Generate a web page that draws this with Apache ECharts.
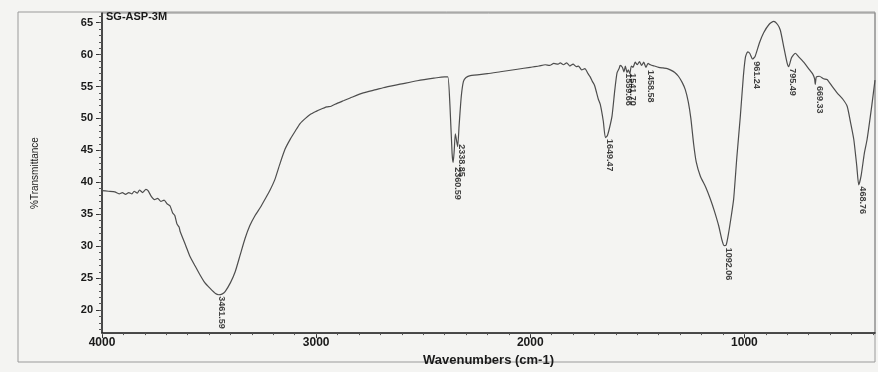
<!DOCTYPE html>
<html>
<head>
<meta charset="utf-8">
<script src="https://cdn.jsdelivr.net/npm/echarts@6/dist/echarts.min.js"></script>
<style>
  html, body { margin: 0; padding: 0; background: #f4f4f2; }
  #spectrum { width: 878px; height: 372px; }
</style>
</head>
<body>
<div id="spectrum"></div>
<script>
  // spectrum, high wavenumber -> low
  var wavenumbers = [
    4000, 3970, 3940, 3920, 3905, 3890, 3875, 3860, 3850, 3835, 3825, 3810, 3795, 3785,
    3770, 3755, 3740, 3725, 3710, 3695, 3682, 3670, 3660, 3650, 3640, 3635, 3610, 3589,
    3565, 3542, 3520, 3495, 3470, 3455, 3440, 3425, 3400, 3378, 3355, 3332, 3310, 3285,
    3260, 3238, 3215, 3192, 3170, 3145, 3120, 3098, 3075, 3050, 3028, 3000, 2981, 2950,
    2930, 2900, 2870, 2841, 2780, 2720, 2687, 2600, 2528, 2450, 2400, 2385, 2375, 2365,
    2360, 2355, 2350, 2344, 2339, 2332, 2322, 2312, 2300, 2280, 2200, 2140, 2060, 2000,
    1960, 1930, 1910, 1890, 1870, 1860, 1845, 1830, 1815, 1800, 1785, 1775, 1760, 1745,
    1730, 1720, 1710, 1700, 1690, 1682, 1673, 1659, 1649, 1640, 1630, 1618, 1605, 1595,
    1585, 1580, 1570, 1562, 1556, 1548, 1542, 1535, 1528, 1520, 1510, 1500, 1490, 1480,
    1470, 1460, 1450, 1439, 1420, 1400, 1380, 1360, 1346, 1325, 1308, 1290, 1276, 1262,
    1250, 1237, 1225, 1206, 1180, 1159, 1140, 1120, 1105, 1095, 1085, 1075, 1060, 1050,
    1035, 1019, 1005, 995, 985, 975, 962, 950, 930, 910, 885, 863, 845, 832,
    815, 800, 793, 780, 762, 745, 723, 700, 680, 672, 669, 664, 650, 630,
    614, 590, 567, 540, 520, 505, 489, 475, 466, 455, 440, 427, 405, 390
  ];
  var transmittance = [
    38.7, 38.6, 38.5, 38.2, 38.4, 38.1, 38.4, 38.2, 38.6, 38.3, 38.8, 38.4, 38.9, 38.7,
    37.8, 37.3, 37.5, 37.0, 37.2, 36.6, 36.3, 35.2, 34.8, 33.5, 33.0, 32.3, 30.2, 28.4,
    26.9, 25.5, 24.3, 23.4, 22.6, 22.4, 22.5, 22.9, 24.3, 26.0, 28.6, 31.2, 33.2, 34.8,
    36.1, 37.4, 38.8, 40.5, 42.8, 45.2, 46.8, 48.0, 49.2, 50.0, 50.6, 51.1, 51.4, 51.8,
    51.9, 52.4, 52.8, 53.2, 54.0, 54.5, 54.8, 55.4, 55.9, 56.3, 56.5, 56.5, 52.0, 44.5,
    43.1, 45.0, 47.6, 46.5, 45.6, 49.0, 53.5, 55.8, 56.4, 56.7, 57.0, 57.3, 57.7, 58.0,
    58.2, 58.4, 58.3, 58.6, 58.5, 58.7, 58.4, 58.7, 58.2, 58.5, 58.1, 58.2, 57.6, 57.8,
    57.0, 56.5, 55.8, 55.2, 54.0, 53.0, 52.2, 49.6, 47.0, 47.3, 48.5, 50.4, 54.5, 57.1,
    57.8, 58.3, 58.0, 57.3, 58.2, 57.2, 57.6, 57.0, 58.2, 58.0, 58.8, 58.4, 58.9, 58.3,
    58.8, 58.0, 58.6, 58.4, 58.2, 58.0, 57.9, 57.8, 57.6, 57.2, 56.6, 55.6, 54.5, 52.6,
    50.0, 46.0, 43.2, 41.0, 39.2, 37.4, 35.5, 33.2, 31.0, 30.1, 30.2, 31.8, 35.0, 37.4,
    44.0, 50.3, 56.5, 59.6, 60.4, 60.2, 59.3, 59.7, 61.8, 63.4, 64.7, 65.2, 64.7, 63.8,
    61.0, 58.6, 58.1, 59.5, 60.2, 59.6, 58.8, 57.8, 56.9, 56.2, 55.3, 56.5, 56.6, 56.2,
    56.1, 55.0, 54.0, 53.0, 51.9, 49.5, 46.7, 42.5, 39.6, 41.0, 44.5, 46.7, 52.0, 56.0
  ];

  // peak picks printed under the trace
  var peakWavenumbers = [3461.59, 2360.59, 2338.85, 1649.47, 1559.66, 1541.70, 1458.58, 1092.06, 961.24, 795.49, 669.33, 468.76];
  var peakTransmittance = [22.4, 42.6, 46.2, 47.0, 57.3, 57.3, 57.8, 30.0, 59.2, 58.1, 55.3, 39.6];
  var peakLabels = ['3461.59', '2360.59', '2338.85', '1649.47', '1559.66', '1541.70', '1458.58', '1092.06', '961.24', '795.49', '669.33', '468.76'];

  var xTickLabels = [4000, 3000, 2000, 1000];
  var yTickLabels = [20, 25, 30, 35, 40, 45, 50, 55, 60, 65];

  var xMinor = [];
  for (var w = 4000; w >= 400; w -= 100) xMinor.push(w);
  var yMinor = [];
  for (var t = 17; t <= 66; t++) yMinor.push(t);

  var X_MIN = 390, X_MAX = 4000, Y_MIN = 16.4, Y_MAX = 66.5;

  var chart = echarts.init(document.getElementById('spectrum'));
  chart.setOption({
    backgroundColor: '#f4f4f2',
    animation: false,
    grid: {
      left: 102, right: 3, top: 13, bottom: 37,
      show: true, borderColor: '#8a8a8a', borderWidth: 1
    },
    graphic: [
      {
        type: 'rect', silent: true, z: -1,
        shape: { x: 18, y: 12, width: 857, height: 350 },
        style: { fill: 'none', stroke: '#9a9a9a', lineWidth: 1 }
      },
      {
        type: 'text', left: 106, top: 11,
        style: { text: 'SG-ASP-3M', font: 'bold 11px "Liberation Sans", Arial, sans-serif', fill: '#1a1a1a' }
      }
    ],
    xAxis: [
      {
        type: 'value', inverse: true, min: X_MIN, max: X_MAX,
        name: 'Wavenumbers (cm-1)', nameLocation: 'middle', nameGap: 16,
        nameTextStyle: { fontFamily: '"Liberation Sans", Arial', fontWeight: 'bold', fontSize: 13, color: '#1a1a1a' },
        axisLine: { lineStyle: { color: '#222', width: 1.5 } },
        axisTick: { show: true, length: 5, customValues: xTickLabels, lineStyle: { color: '#333' } },
        axisLabel: {
          customValues: xTickLabels, margin: 4,
          formatter: function (v) { return String(v); },
          fontFamily: '"Liberation Sans", Arial', fontWeight: 'bold', fontSize: 12, color: '#1a1a1a'
        },
        splitLine: { show: false }
      },
      {
        type: 'value', inverse: true, min: X_MIN, max: X_MAX, position: 'bottom',
        axisLine: { show: false },
        axisTick: { show: true, length: 2, customValues: xMinor, lineStyle: { color: '#555' } },
        axisLabel: { show: false },
        splitLine: { show: false }
      }
    ],
    yAxis: [
      {
        type: 'value', min: Y_MIN, max: Y_MAX,
        name: '%Transmittance', nameLocation: 'middle', nameGap: 62,
        nameTextStyle: { fontFamily: '"Liberation Sans", Arial', fontSize: 10, color: '#1a1a1a' },
        axisLine: { show: true, lineStyle: { color: '#222', width: 1.5 } },
        axisTick: { show: true, length: 6, customValues: yTickLabels, lineStyle: { color: '#333' } },
        axisLabel: {
          customValues: yTickLabels, margin: 9,
          fontFamily: '"Liberation Sans", Arial', fontWeight: 'bold', fontSize: 11, color: '#1a1a1a'
        },
        splitLine: { show: false }
      },
      {
        type: 'value', min: Y_MIN, max: Y_MAX, position: 'left',
        axisLine: { show: false },
        axisTick: { show: true, length: 3, customValues: yMinor, lineStyle: { color: '#555' } },
        axisLabel: { show: false },
        splitLine: { show: false }
      }
    ],
    series: [
      {
        name: 'SG-ASP-3M',
        type: 'line',
        data: wavenumbers.map(function (wn, i) { return [wn, transmittance[i]]; }),
        showSymbol: false,
        smooth: 0.2,
        lineStyle: { color: '#4d4d4d', width: 1.2 }
      },
      {
        name: 'peaks',
        type: 'scatter',
        symbolSize: 1,
        itemStyle: { color: 'rgba(0,0,0,0)' },
        data: peakWavenumbers.map(function (wn, i) { return [wn, peakTransmittance[i]]; }),
        label: {
          show: true,
          position: [0, 2],
          rotate: -90,
          align: 'left',
          verticalAlign: 'bottom',
          formatter: function (p) { return peakLabels[p.dataIndex]; },
          fontFamily: '"Liberation Sans Narrow", "Arial Narrow", "Liberation Sans", sans-serif',
          fontWeight: 'bold',
          fontSize: 9,
          color: '#111'
        }
      }
    ]
  });
</script>
</body>
</html>
